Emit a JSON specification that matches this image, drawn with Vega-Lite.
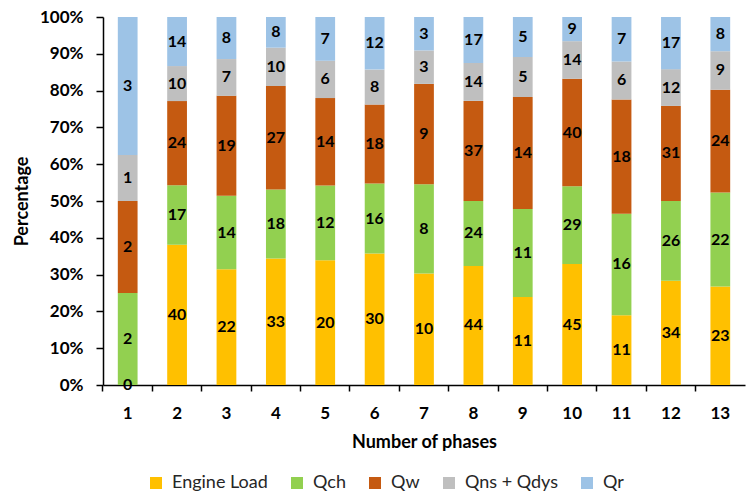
{
  "$schema": "https://vega.github.io/schema/vega-lite/v6.json",
  "width": 642,
  "height": 368,
  "autosize": "none",
  "padding": {"left": 103, "top": 17, "right": 7, "bottom": 112},
  "background": "white",
  "config": {
    "font": "Lato",
    "view": {"stroke": null},
    "axisY": {
      "titleFontSize": 18,
      "titleFontWeight": "bold",
      "titleColor": "#000000",
      "titlePadding": 8,
      "labelOverlap": false,
      "labelFontSize": 17,
      "labelFontWeight": "bold",
      "labelColor": "#000000",
      "labelPadding": 13,
      "grid": false,
      "domainColor": "#000000",
      "domainWidth": 1.5,
      "tickColor": "#000000",
      "tickWidth": 1.5,
      "tickSize": 7
    }
  },
  "data": {
    "values": [
      {"phase": "1", "source": "Engine Load", "order": 1, "value": 0},
      {"phase": "1", "source": "Qch", "order": 2, "value": 2},
      {"phase": "1", "source": "Qw", "order": 3, "value": 2},
      {"phase": "1", "source": "Qns + Qdys", "order": 4, "value": 1},
      {"phase": "1", "source": "Qr", "order": 5, "value": 3},
      {"phase": "2", "source": "Engine Load", "order": 1, "value": 40},
      {"phase": "2", "source": "Qch", "order": 2, "value": 17},
      {"phase": "2", "source": "Qw", "order": 3, "value": 24},
      {"phase": "2", "source": "Qns + Qdys", "order": 4, "value": 10},
      {"phase": "2", "source": "Qr", "order": 5, "value": 14},
      {"phase": "3", "source": "Engine Load", "order": 1, "value": 22},
      {"phase": "3", "source": "Qch", "order": 2, "value": 14},
      {"phase": "3", "source": "Qw", "order": 3, "value": 19},
      {"phase": "3", "source": "Qns + Qdys", "order": 4, "value": 7},
      {"phase": "3", "source": "Qr", "order": 5, "value": 8},
      {"phase": "4", "source": "Engine Load", "order": 1, "value": 33},
      {"phase": "4", "source": "Qch", "order": 2, "value": 18},
      {"phase": "4", "source": "Qw", "order": 3, "value": 27},
      {"phase": "4", "source": "Qns + Qdys", "order": 4, "value": 10},
      {"phase": "4", "source": "Qr", "order": 5, "value": 8},
      {"phase": "5", "source": "Engine Load", "order": 1, "value": 20},
      {"phase": "5", "source": "Qch", "order": 2, "value": 12},
      {"phase": "5", "source": "Qw", "order": 3, "value": 14},
      {"phase": "5", "source": "Qns + Qdys", "order": 4, "value": 6},
      {"phase": "5", "source": "Qr", "order": 5, "value": 7},
      {"phase": "6", "source": "Engine Load", "order": 1, "value": 30},
      {"phase": "6", "source": "Qch", "order": 2, "value": 16},
      {"phase": "6", "source": "Qw", "order": 3, "value": 18},
      {"phase": "6", "source": "Qns + Qdys", "order": 4, "value": 8},
      {"phase": "6", "source": "Qr", "order": 5, "value": 12},
      {"phase": "7", "source": "Engine Load", "order": 1, "value": 10},
      {"phase": "7", "source": "Qch", "order": 2, "value": 8},
      {"phase": "7", "source": "Qw", "order": 3, "value": 9},
      {"phase": "7", "source": "Qns + Qdys", "order": 4, "value": 3},
      {"phase": "7", "source": "Qr", "order": 5, "value": 3},
      {"phase": "8", "source": "Engine Load", "order": 1, "value": 44},
      {"phase": "8", "source": "Qch", "order": 2, "value": 24},
      {"phase": "8", "source": "Qw", "order": 3, "value": 37},
      {"phase": "8", "source": "Qns + Qdys", "order": 4, "value": 14},
      {"phase": "8", "source": "Qr", "order": 5, "value": 17},
      {"phase": "9", "source": "Engine Load", "order": 1, "value": 11},
      {"phase": "9", "source": "Qch", "order": 2, "value": 11},
      {"phase": "9", "source": "Qw", "order": 3, "value": 14},
      {"phase": "9", "source": "Qns + Qdys", "order": 4, "value": 5},
      {"phase": "9", "source": "Qr", "order": 5, "value": 5},
      {"phase": "10", "source": "Engine Load", "order": 1, "value": 45},
      {"phase": "10", "source": "Qch", "order": 2, "value": 29},
      {"phase": "10", "source": "Qw", "order": 3, "value": 40},
      {"phase": "10", "source": "Qns + Qdys", "order": 4, "value": 14},
      {"phase": "10", "source": "Qr", "order": 5, "value": 9},
      {"phase": "11", "source": "Engine Load", "order": 1, "value": 11},
      {"phase": "11", "source": "Qch", "order": 2, "value": 16},
      {"phase": "11", "source": "Qw", "order": 3, "value": 18},
      {"phase": "11", "source": "Qns + Qdys", "order": 4, "value": 6},
      {"phase": "11", "source": "Qr", "order": 5, "value": 7},
      {"phase": "12", "source": "Engine Load", "order": 1, "value": 34},
      {"phase": "12", "source": "Qch", "order": 2, "value": 26},
      {"phase": "12", "source": "Qw", "order": 3, "value": 31},
      {"phase": "12", "source": "Qns + Qdys", "order": 4, "value": 12},
      {"phase": "12", "source": "Qr", "order": 5, "value": 17},
      {"phase": "13", "source": "Engine Load", "order": 1, "value": 23},
      {"phase": "13", "source": "Qch", "order": 2, "value": 22},
      {"phase": "13", "source": "Qw", "order": 3, "value": 24},
      {"phase": "13", "source": "Qns + Qdys", "order": 4, "value": 9},
      {"phase": "13", "source": "Qr", "order": 5, "value": 8}
    ]
  },
  "transform": [
    {"stack": "value", "groupby": ["phase"], "sort": [{"field": "order", "order": "ascending"}], "offset": "normalize", "as": ["lo", "hi"]},
    {"calculate": "(datum.lo + datum.hi) / 2", "as": "mid"}
  ],
  "encoding": {
    "x": {
      "field": "phase",
      "type": "ordinal",
      "sort": ["1","2","3","4","5","6","7","8","9","10","11","12","13"],
      "scale": {"paddingInner": 0.6, "paddingOuter": 0.3},
      "axis": {
        "title": "Number of phases",
        "titleFontSize": 18,
        "titleFontWeight": "bold",
        "titleColor": "#000000",
        "titlePadding": 12,
        "labelAngle": 0,
        "labelFontSize": 17,
        "labelFontWeight": "bold",
        "labelColor": "#000000",
        "labelPadding": 14,
        "bandPosition": -0.75,
        "domainColor": "#000000",
        "domainWidth": 1.5,
        "tickColor": "#000000",
        "tickWidth": 1.5,
        "tickSize": 6
      }
    }
  },
  "layer": [
    {
      "mark": {"type": "bar"},
      "encoding": {
        "y": {
          "field": "lo",
          "type": "quantitative",
          "scale": {"domain": [0, 1]},
          "axis": {
            "title": "Percentage",
            "format": ".0%",
            "values": [0, 0.1, 0.2, 0.3, 0.4, 0.5, 0.6, 0.7, 0.8, 0.9, 1]
          }
        },
        "y2": {"field": "hi"},
        "color": {
          "field": "source",
          "type": "nominal",
          "sort": ["Engine Load", "Qch", "Qw", "Qns + Qdys", "Qr"],
          "scale": {
            "domain": ["Engine Load", "Qch", "Qw", "Qns + Qdys", "Qr"],
            "range": ["#FFC000", "#92D050", "#C55A11", "#BFBFBF", "#9DC3E6"]
          },
          "legend": {
            "title": null,
            "orient": "none",
            "legendX": 44,
            "legendY": 457,
            "direction": "horizontal",
            "symbolType": "square",
            "symbolSize": 144,
            "symbolStrokeWidth": 0,
            "labelFontSize": 18,
            "labelOffset": 7,
            "labelColor": "#262626",
            "columnPadding": 20
          }
        }
      }
    },
    {
      "mark": {"type": "text", "fontSize": 16, "fontWeight": "bold", "color": "#000000", "baseline": "middle"},
      "encoding": {
        "y": {
          "field": "mid",
          "type": "quantitative",
          "axis": {
            "title": "Percentage",
            "format": ".0%",
            "values": [0, 0.1, 0.2, 0.3, 0.4, 0.5, 0.6, 0.7, 0.8, 0.9, 1]
          }
        },
        "text": {"field": "value", "type": "quantitative"}
      }
    }
  ]
}
